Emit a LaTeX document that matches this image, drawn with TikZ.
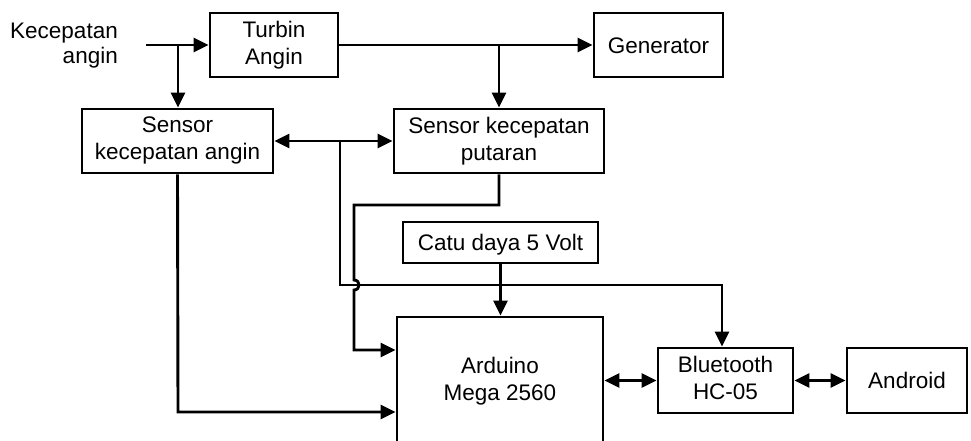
\documentclass[tikz,border=0pt]{standalone}
\usepackage{fontspec}
\setmainfont{Liberation Sans}
\usetikzlibrary{arrows.meta}
\begin{document}
\begin{tikzpicture}[x=1pt,y=-1pt,
  txt/.style={inner sep=0pt, font=\fontsize{22.5}{27}\selectfont,
    execute at begin node={\rule{0pt}{21pt}},
    execute at end node={\rule[-4.8pt]{0pt}{0pt}}},
  box/.style={txt, draw, line width=2.9pt, align=center},
  conn/.style={line width=2.9pt},
  arr/.style={conn, -{Triangle[length=15pt,width=14pt]}},
  darr/.style={conn, {Triangle[length=15pt,width=14pt]}-{Triangle[length=15pt,width=14pt]}}]
\clip (0,0) rectangle (971,441);
\fill[white] (0,0) rectangle (971,441);
% nodes
\node[txt, align=right, anchor=east, font=\fontsize{22.5}{25.5}\selectfont] (kec) at (118,45.5) {Kecepatan\\angin};
\node[box, minimum width=128pt, minimum height=64pt] (turbin) at (274,45) {Turbin\\Angin};
\node[box, minimum width=129pt, minimum height=64pt] (gen) at (658.5,45) {Generator};
\node[box, minimum width=191pt, minimum height=64pt] (sangin) at (177.5,141) {Sensor\\kecepatan angin};
\node[box, minimum width=210pt, minimum height=64pt] (sputar) at (499,141) {Sensor kecepatan\\putaran};
\node[box, minimum width=195pt, minimum height=41pt] (catu) at (500.5,242.5) {Catu daya 5 Volt};
\node[box, minimum width=206pt, minimum height=128pt] (ard) at (500,381) {Arduino\\Mega 2560};
\node[box, minimum width=135pt, minimum height=65pt] (bt) at (725.5,380.5) {Bluetooth\\HC-05};
\node[box, minimum width=120pt, minimum height=65pt] (and) at (907,380.5) {Android};
% coordinates
\coordinate (in) at (146,45);
\coordinate (j1) at (178,45);
\coordinate (j2) at (499,45);
\coordinate (j3) at (340,141);
\coordinate (k1) at (340,285);
\coordinate (k2) at (722,285);
\coordinate (p1) at (499,205);
\coordinate (p2) at (354,205);
\coordinate (h1) at (354,280);
\coordinate (h2) at (354,290);
\coordinate (p3) at (354,350);
\coordinate (s1) at (178,412);
% connectors
\draw[arr] (in) -- (turbin.west |- in);
\draw[arr] (j1) -- (j1 |- sangin.north);
\draw[arr] (turbin.east) -- (gen.west);
\draw[arr] (j2) -- (j2 |- sputar.north);
\draw[darr] (sangin.east) -- (sputar.west);
\draw[arr] (j3) -- (k1) -- (k2) -- (k2 |- bt.north);
\draw[arr] (sputar.south) -- (p1) -- (p2) -- (h1) .. controls (360.7,280) and (360.7,290) .. (h2) -- (p3) -- (p3 -| ard.west);
\draw[arr] (sangin.south) -- (s1) -- (s1 -| ard.west);
\draw[arr] (catu.south) -- (catu.south |- ard.north);
\draw[darr] (ard.east |- bt.west) -- (bt.west);
\draw[darr] (bt.east) -- (and.west);
\end{tikzpicture}
\end{document}
